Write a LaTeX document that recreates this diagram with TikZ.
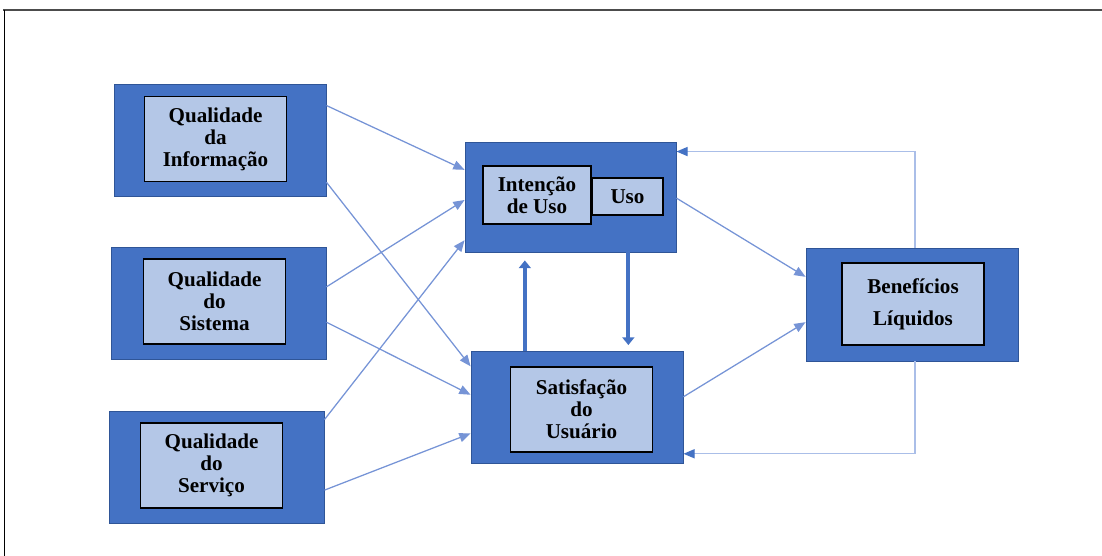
\documentclass[tikz,border=0pt]{standalone}
\usepackage{fontspec}
\setmainfont{Liberation Serif}
\usetikzlibrary{arrows.meta,calc}

\definecolor{boxblue}{RGB}{68,114,196}
\definecolor{boxedge}{RGB}{47,85,151}
\definecolor{innerblue}{RGB}{180,199,231}
\definecolor{linkblue}{RGB}{118,148,214}
\definecolor{backblue}{RGB}{170,190,232}

\begin{document}
\begin{tikzpicture}[x=0.025cm,y=-0.025cm,
    outer box/.style={draw=boxedge,fill=boxblue,line width=0.6pt,inner sep=0pt,
                      minimum width=5.3cm,minimum height=2.8cm},
    inner box/.style={draw=black,fill=innerblue,line width=0.9pt,inner sep=0pt,
                      minimum width=3.55cm,minimum height=2.13cm,align=center,
                      font=\fontsize{15}{15.6}\selectfont\bfseries},
    link/.style={draw=linkblue,line width=0.9pt,-{Triangle[length=8pt,width=6.5pt]}},
    feedback/.style={draw=backblue,line width=1pt,-{Triangle[length=8pt,width=6.5pt,color=boxblue]}},
    thick link/.style={draw=boxblue,line width=2.8pt,-{Triangle[length=5.5pt,width=8.5pt]}}]

  \useasboundingbox (0,0) rectangle (1102,556);

  % frame
  \draw[gray!60!black,line width=1.3pt] (3,10) -- (1102,10);
  \draw[line width=0.6pt] (4,10) -- (4,556);

  % outer boxes
  \node[outer box] (qi)  at (220,140.5) {};
  \node[outer box,minimum width=5.375cm] (qs)  at (218.5,303) {};
  \node[outer box,minimum width=5.375cm] (qsv) at (216.5,467) {};
  \node[outer box,minimum width=5.275cm,minimum height=2.75cm] (int) at (570.5,197) {};
  \node[outer box] (sat) at (577,407.5) {};
  \node[outer box,minimum height=2.825cm] (ben) at (912,304.5) {};

  % inner boxes
  \node[inner box] (qiin)  at (215.5,139) {Qualidade\\da\\Informação};
  \node[inner box] (qsin)  at (214.5,301.5) {Qualidade\\do\\Sistema};
  \node[inner box] (qsvin) at (211.5,465.5) {Qualidade\\do\\Serviço};
  \node[inner box,minimum width=2.7cm,minimum height=1.45cm] (intin) at (537,195) {Intenção\\de Uso};
  \node[inner box,minimum width=1.775cm,minimum height=0.925cm] (uso) at (627.5,196.5) {Uso};
  \node[inner box] (satin) at (581.5,409.5) {Satisfação\\do\\Usuário};
  \node[inner box,minimum height=2.05cm] (benin) at (913,304) {Benefícios\\[7pt]Líquidos};

  % dimensions -> use / satisfaction -> benefits
  \foreach \src/\sf/\dst/\df in {qi/0.19/int/0.255, qi/0.87/sat/0.135,
                                 qs/0.357/int/0.527, qs/0.67/sat/0.387,
                                 qsv/0.08/int/0.89, qsv/0.705/sat/0.73,
                                 int/0.51/ben/0.257, sat/0.405/ben/0.655}
    \draw[link] ($(\src.north east)!\sf!(\src.south east)$) --
                ($(\dst.north west)!\df!(\dst.south west)$);

  % feedback loops
  \draw[feedback] ($(ben.north west)!0.514!(ben.north east)$) |- ($(int.north east)!0.09!(int.south east)$);
  \draw[feedback] ($(ben.south west)!0.514!(ben.south east)$) |- ($(sat.north east)!0.91!(sat.south east)$);

  % use <-> satisfaction
  \coordinate (up) at ($(sat.north west)!0.255!(sat.north east)$);
  \draw[thick link,shorten >=0.2cm] (up) -- (up |- int.south);
  \coordinate (down) at ($(int.south west)!0.773!(int.south east)$);
  \draw[thick link,shorten >=0.15cm] (down) -- (down |- sat.north);

\end{tikzpicture}
\end{document}
